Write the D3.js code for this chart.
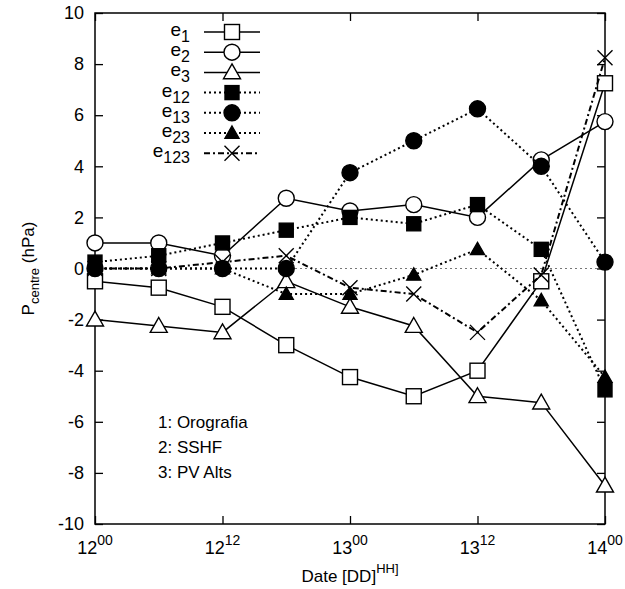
<!DOCTYPE html>
<html>
<head>
<meta charset="utf-8">
<script src="https://cdn.jsdelivr.net/npm/d3@7"></script>
<style>
  body { margin: 0; background: #fff; }
  svg text { font-family: "Liberation Sans", Arial, sans-serif; fill: #000; }
</style>
</head>
<body>
<div id="chart"></div>
<script>
// time steps, every 6 h from 12/00 to 14/00
const hours = [0, 6, 12, 18, 24, 30, 36, 42, 48];
const tickHours = [0, 12, 24, 36, 48];
const tickDay = ["12", "12", "13", "13", "14"];
const tickHH = ["00", "12", "00", "12", "00"];
const yTicks = [-10, -8, -6, -4, -2, 0, 2, 4, 6, 8, 10];

const e1 = [-0.5, -0.75, -1.5, -3, -4.25, -5, -4, -0.5, 7.25];
const e2 = [1, 1, 0.5, 2.75, 2.25, 2.5, 2, 4.25, 5.75];
const e3 = [-2, -2.25, -2.5, -0.5, -1.5, -2.25, -5, -5.25, -8.5];
const e12 = [0.25, 0.5, 1, 1.5, 2, 1.75, 2.5, 0.75, -4.75];
const e13 = [0, 0, 0, 0, 3.75, 5, 6.25, 4, 0.25];
const e23 = [0, 0, 0, -1, -1, -0.25, 0.75, -1.25, -4.25];
const e123 = [0, 0, 0.25, 0.5, -0.75, -1, -2.5, -0.25, 8.25];

const seriesNames = ["1", "2", "3", "12", "13", "23", "123"];
const seriesValues = [e1, e2, e3, e12, e13, e23, e123];
const seriesMarker = ["square", "circle", "triangle", "square", "circle", "triangle", "cross"];
const seriesFilled = [false, false, false, true, true, true, false];
const seriesDash = [null, null, null, "2,3", "2,3", "2,3", "6,3,2,3"];

const notes = ["1: Orografia", "2: SSHF", "3: PV Alts"];

const width = 625, height = 589;
const margin = {left: 95, right: 20, top: 13, bottom: 65};

const svg = d3.select("#chart").append("svg")
  .attr("width", width).attr("height", height);

const x = d3.scaleLinear().domain([0, 48]).range([margin.left, width - margin.right]);
const y = d3.scaleLinear().domain([-10, 10]).range([height - margin.bottom, margin.top]);

// zero line
svg.append("line")
  .attr("x1", x(0)).attr("x2", x(48))
  .attr("y1", y(0)).attr("y2", y(0))
  .attr("stroke", "#777").attr("stroke-width", 1)
  .attr("stroke-dasharray", "2,3");

// axes with inward ticks
const tk = 8;
const yL = svg.append("g").attr("transform", `translate(${x(0)},0)`)
  .call(d3.axisLeft(y).tickValues(yTicks).tickSizeInner(-tk).tickSizeOuter(0)
    .tickPadding(11).tickFormat(d => String(d)));
const yR = svg.append("g").attr("transform", `translate(${x(48)},0)`)
  .call(d3.axisRight(y).tickValues(yTicks).tickSizeInner(-tk).tickSizeOuter(0).tickFormat(""));
const xB = svg.append("g").attr("transform", `translate(0,${y(-10)})`)
  .call(d3.axisBottom(x).tickValues(tickHours).tickSizeInner(-tk).tickSizeOuter(0).tickFormat(""));
const xT = svg.append("g").attr("transform", `translate(0,${y(10)})`)
  .call(d3.axisTop(x).tickValues(tickHours).tickSizeInner(-tk).tickSizeOuter(0).tickFormat(""));

[yL, yR, xB, xT].forEach(g => {
  g.select(".domain").remove();
  g.selectAll("line").attr("stroke", "#000").attr("stroke-width", 1.3);
});
yL.selectAll("text").attr("font-size", 18).attr("font-family", "Liberation Sans, Arial, sans-serif");

// frame
svg.append("rect")
  .attr("x", x(0)).attr("y", y(10))
  .attr("width", x(48) - x(0)).attr("height", y(-10) - y(10))
  .attr("fill", "none").attr("stroke", "#000").attr("stroke-width", 1.5);

// x tick labels with superscript hours
tickHours.forEach((h, i) => {
  const t = svg.append("text")
    .attr("x", x(h)).attr("y", y(-10) + 30)
    .attr("text-anchor", "middle").attr("font-size", 18);
  t.append("tspan").text(tickDay[i]);
  t.append("tspan").attr("dy", -9).attr("font-size", 14).text(tickHH[i]);
});

// axis titles
const xt = svg.append("text")
  .attr("x", (x(0) + x(48)) / 2).attr("y", 582)
  .attr("text-anchor", "middle").attr("font-size", 17);
xt.append("tspan").text("Date [DD]");
xt.append("tspan").attr("dy", -9).attr("font-size", 13).text("HH]");

const yt = svg.append("text")
  .attr("transform", `translate(34,${y(0)}) rotate(-90)`)
  .attr("text-anchor", "middle").attr("font-size", 17);
yt.append("tspan").text("P");
yt.append("tspan").attr("dy", 5).attr("font-size", 13).text("centre");
yt.append("tspan").attr("dy", -5).text(" (hPa)");

// marker drawing
function drawMarker(g, kind, filled, cx, cy) {
  const fill = filled ? "#000" : "#fff";
  const sw = 1.4;
  if (kind === "square") {
    const s = filled ? 14 : 15;
    g.append("rect").attr("x", cx - s / 2).attr("y", cy - s / 2)
      .attr("width", s).attr("height", s)
      .attr("fill", fill).attr("stroke", "#000").attr("stroke-width", sw);
  } else if (kind === "circle") {
    g.append("circle").attr("cx", cx).attr("cy", cy).attr("r", 8)
      .attr("fill", fill).attr("stroke", "#000").attr("stroke-width", sw);
  } else if (kind === "triangle") {
    const s = filled ? 7 : 8.5;
    g.append("path")
      .attr("d", `M${cx},${cy - s}L${cx + s},${cy + s * 0.75}L${cx - s},${cy + s * 0.75}Z`)
      .attr("fill", fill).attr("stroke", "#000").attr("stroke-width", sw);
  } else if (kind === "cross") {
    const s = 7.5;
    g.append("path")
      .attr("d", `M${cx - s},${cy - s}L${cx + s},${cy + s}M${cx - s},${cy + s}L${cx + s},${cy - s}`)
      .attr("stroke", "#000").attr("stroke-width", sw).attr("fill", "none");
  }
}

const line = d3.line().x((d, i) => x(hours[i])).y(d => y(d));

seriesValues.forEach((vals, k) => {
  const g = svg.append("g");
  g.append("path").datum(vals).attr("d", line)
    .attr("fill", "none").attr("stroke", "#000")
    .attr("stroke-width", seriesDash[k] ? 2 : 1.5)
    .attr("stroke-dasharray", seriesDash[k]);
  vals.forEach((v, i) => drawMarker(g, seriesMarker[k], seriesFilled[k], x(hours[i]), y(v)));
});

// legend
const legX = 190, legY0 = 32, legDy = 20.2;
seriesNames.forEach((n, k) => {
  const ly = legY0 + k * legDy;
  const t = svg.append("text").attr("x", legX).attr("y", ly + 4)
    .attr("text-anchor", "end").attr("font-size", 19);
  t.append("tspan").text("e");
  t.append("tspan").attr("dy", 6).attr("font-size", 16).text(n);
  const g = svg.append("g");
  g.append("line").attr("x1", 204).attr("x2", 260).attr("y1", ly).attr("y2", ly)
    .attr("stroke", "#000").attr("stroke-width", seriesDash[k] ? 2 : 1.5)
    .attr("stroke-dasharray", seriesDash[k]);
  drawMarker(g, seriesMarker[k], seriesFilled[k], 232, ly);
});

// notes
notes.forEach((n, i) => {
  svg.append("text").attr("x", 158).attr("y", 428 + i * 25)
    .attr("font-size", 17).text(n);
});
</script>
</body>
</html>
